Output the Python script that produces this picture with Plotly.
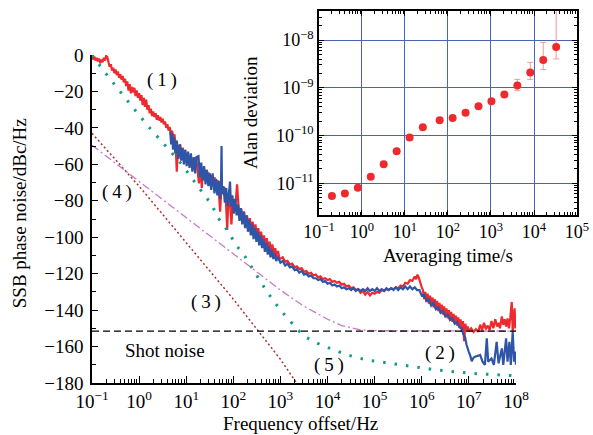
import plotly.graph_objects as go

# ---------------- data ----------------
# Red measured trace (1): log10(frequency offset / Hz) and SSB phase noise (dBc/Hz)
red_logf = [-1.0, -0.975, -0.95, -0.925, -0.9, -0.875, -0.85, -0.825, -0.8, -0.775, -0.75, -0.725, -0.7,
            -0.675, -0.65, -0.625, -0.6, -0.575, -0.55, -0.525, -0.5, -0.475, -0.45, -0.425, -0.4, -0.375,
            -0.35, -0.325, -0.3, -0.275, -0.25, -0.225, -0.2, -0.175, -0.15, -0.125, -0.1, -0.075, -0.05,
            -0.025, 0.0, 0.025, 0.05, 0.075, 0.1, 0.125, 0.15, 0.175, 0.2, 0.225, 0.25, 0.275, 0.3, 0.325,
            0.35, 0.375, 0.4, 0.425, 0.45, 0.475, 0.5, 0.525, 0.55, 0.575, 0.6, 0.625, 0.65, 0.675, 0.7,
            0.725, 0.75, 0.775, 0.8, 0.825, 0.85, 0.875, 0.9, 0.925, 0.95, 0.975,
            1.0, 1.03, 1.06, 1.09, 1.12, 1.15, 1.18, 1.21, 1.24, 1.27, 1.30, 1.33, 1.36, 1.39, 1.42, 1.45,
            1.48, 1.51, 1.54, 1.57, 1.60, 1.63, 1.66, 1.69, 1.72, 1.75, 1.78, 1.81, 1.84, 1.87, 1.90, 1.93,
            1.96, 1.99, 2.02, 2.05, 2.08, 2.11, 2.14, 2.17, 2.20, 2.23, 2.26, 2.29, 2.32, 2.35, 2.38, 2.41,
            2.44, 2.47, 2.50, 2.53, 2.56, 2.59, 2.62, 2.65, 2.68, 2.71, 2.74, 2.77, 2.80, 2.83, 2.86, 2.89,
            2.92, 2.95, 2.98,
            3.05, 3.10, 3.15, 3.20, 3.25, 3.30, 3.35, 3.40, 3.45, 3.50, 3.55, 3.60, 3.65, 3.70, 3.75, 3.80,
            3.85, 3.90, 3.95, 4.00, 4.05, 4.10, 4.15, 4.20, 4.25, 4.30, 4.35, 4.40, 4.45, 4.50, 4.55, 4.60,
            4.65, 4.70, 4.75, 4.80, 4.85, 4.90, 4.95, 5.00, 5.05, 5.10, 5.15, 5.20, 5.25, 5.30, 5.35, 5.40,
            5.45, 5.50, 5.55, 5.60, 5.65, 5.70, 5.75, 5.80, 5.85, 5.88, 5.91, 5.94, 5.97, 6.00,
            6.025, 6.05, 6.075, 6.10, 6.125, 6.15, 6.175, 6.20, 6.225, 6.25, 6.275, 6.30, 6.325, 6.35,
            6.375, 6.40, 6.425, 6.45, 6.475, 6.50, 6.525, 6.55, 6.575, 6.60, 6.625, 6.65, 6.675, 6.70,
            6.725, 6.75, 6.775, 6.80, 6.825, 6.85, 6.875, 6.90, 6.925, 6.95, 6.975, 7.00,
            7.05, 7.10, 7.15, 7.20, 7.24, 7.28, 7.32, 7.36, 7.40, 7.44, 7.48, 7.52, 7.56, 7.60, 7.63, 7.66,
            7.70, 7.73, 7.76, 7.79, 7.82, 7.85, 7.88, 7.91, 7.93, 7.95, 7.97, 7.99, 8.0]
red_db = [0, -2.5, -0.8, -3, -1.5, -3.5, -2, -4.5, -2.5, -4, -1.5, -3, -0.5,
          -1, -4, -6.5, -5, -8.5, -7, -10, -8, -11, -9, -12.5, -10.5, -13.5,
          -11.5, -15, -13, -17, -14.5, -19.5, -16, -21, -17.5, -20.5, -18, -22.5, -19.5,
          -23.5, -21, -25, -22, -27.5, -23.5, -28.5, -24.5, -30, -27.5, -32, -29.5, -33.5, -31, -34,
          -32, -35.5, -33, -36, -34, -37, -35, -38, -36.5, -40, -38, -41.5, -39.5, -43, -41.5,
          -45, -43.5, -49, -64, -50, -55, -49, -56, -51, -58, -52,
          -58, -54, -60, -55.5, -61, -57, -62, -56, -63, -70.5, -60, -73, -62, -67.5, -63, -69,
          -64.5, -70, -66, -71.5, -67, -73, -68.5, -74, -86, -71, -76.5, -72.5, -78, -96, -76, -81,
          -93, -79, -85, -81, -71, -83, -89, -84.5, -91, -86, -92.5, -88, -94, -89.5, -96, -91.5,
          -97.5, -93, -99.5, -95, -101, -97, -103, -99, -104.5, -100.5, -106, -102.5, -107.5, -104, -109, -106,
          -111, -107.5, -112,
          -111, -113.5, -113, -115, -114.5, -116.5, -116, -117.5, -117, -119, -118.5, -120, -119.5, -121, -120.5, -122,
          -121.5, -123, -122.5, -123.5, -123, -124.5, -124, -125, -124.5, -126, -125.5, -127, -126.5, -128, -127.5, -129,
          -128.5, -130.5, -129.5, -131.5, -130, -132, -130.5, -131, -130, -130.5, -129, -129.5, -128.5, -129, -128, -128.5,
          -127.5, -128, -126.5, -127, -125, -125.5, -123.5, -124, -121.5, -123, -120.5, -122.5, -125, -127.5,
          -129, -134, -130, -135.5, -131, -136.5, -132, -137.5, -133, -138.5, -134, -139.5, -135, -140.5,
          -136, -141.5, -137, -142.5, -138, -143.5, -139, -144.5, -140, -145.5, -141, -146.5, -142, -147.5,
          -143, -148.5, -144, -149.5, -145, -152, -146, -157, -147.5, -151, -149, -151.5,
          -150, -152, -150.5, -151.9, -148, -151, -147, -150.5, -148.5, -151, -146, -150, -145, -149, -147, -150,
          -143.5, -148, -145, -149, -144.5, -150, -144, -135.5, -151.8, -146, -139, -150, -147]

# Blue measured trace (2)
blue_logf = [0.66, 0.68, 0.70, 0.72, 0.74, 0.77, 0.80, 0.83, 0.86, 0.89, 0.92, 0.95, 0.98, 1.01, 1.04,
             1.07, 1.10, 1.13, 1.16, 1.19, 1.22, 1.26, 1.29, 1.32, 1.35, 1.38, 1.41, 1.44, 1.47, 1.50,
             1.53, 1.56, 1.60, 1.63, 1.66, 1.69, 1.72, 1.74, 1.75, 1.76, 1.79, 1.82, 1.85, 1.88, 1.91,
             1.93, 1.95, 1.98, 2.01, 2.04, 2.07, 2.10, 2.13, 2.16, 2.19, 2.22, 2.25, 2.28, 2.31, 2.34,
             2.37, 2.40, 2.43, 2.46, 2.49, 2.52, 2.55, 2.58, 2.61, 2.64, 2.67, 2.70, 2.73, 2.76, 2.79,
             2.82, 2.85, 2.88, 2.91, 2.95,
             3.00, 3.05, 3.10, 3.15, 3.20, 3.25, 3.30, 3.35, 3.40, 3.45, 3.50, 3.55, 3.60, 3.65, 3.70,
             3.75, 3.80, 3.85, 3.90, 3.95, 4.00, 4.05, 4.10, 4.15, 4.20, 4.25, 4.30, 4.35, 4.40, 4.45,
             4.50, 4.55, 4.60, 4.65, 4.70, 4.75, 4.80, 4.85, 4.90, 4.95, 5.00, 5.05, 5.10, 5.15, 5.20,
             5.25, 5.30, 5.35, 5.40, 5.45, 5.50, 5.55, 5.60, 5.65, 5.70, 5.75, 5.80, 5.85, 5.90, 5.95,
             6.00, 6.05, 6.10, 6.15, 6.20, 6.25, 6.30, 6.35, 6.40, 6.45, 6.50, 6.55, 6.60, 6.65, 6.70,
             6.75, 6.80, 6.85, 6.88, 6.92, 6.95, 7.00, 7.03, 7.06, 7.10, 7.13, 7.20, 7.24, 7.29, 7.34,
             7.38, 7.41, 7.48, 7.53, 7.59, 7.63, 7.70, 7.73, 7.79, 7.82, 7.86, 7.89, 7.93, 7.96, 7.98, 8.0]
blue_db = [-42, -49, -43, -52, -45, -54, -47, -57, -49, -58, -51, -60, -52, -61, -53,
           -62, -54, -64, -56, -65, -56, -55.5, -67, -59, -69, -61, -71, -63, -72, -65,
           -74, -65, -76, -68, -77, -69, -79, -69, -50, -76, -72, -81, -73, -83, -75,
           -69.5, -83, -77, -87, -79, -88, -82, -91, -84, -93, -86, -95, -88, -97, -90.5,
           -99, -93, -101, -95, -102.5, -97, -104.5, -99, -106, -101, -108, -103, -109.5, -105, -111,
           -107, -112, -109, -113, -111,
           -114, -113, -115.5, -114.5, -116.5, -116, -118, -117.5, -119.5, -118.5, -120.5, -120, -121.5, -121, -122.5,
           -122.5, -123.5, -123, -124.5, -124, -125.5, -125, -126.5, -126, -127, -126.5, -128, -127.5, -128.5, -128,
           -129, -128, -129.5, -128.5, -129.5, -128.5, -129.5, -128, -129.5, -128.5, -129.5, -128, -129.5, -128.5, -129.5,
           -128, -129, -128, -129, -127.5, -129, -127.5, -128.5, -127, -128.5, -127, -128.5, -127.5, -129, -129,
           -132, -131.5, -135, -134, -137.5, -136, -139.5, -138.5, -141.5, -140.5, -143.5, -142.5, -145.5, -144.5, -147.5,
           -146.5, -149.5, -150, -153, -155, -159, -163, -165, -168, -166, -165.6, -165, -164.6, -168.3, -170.1,
           -155.5, -168.3, -166.5, -170.1, -157.4, -169.2, -161, -170.1, -155.5, -168.3, -157.4, -170.1, -151.9, -168.3, -162.8, -170]

# Model curve (3)
c3_f = [0.1, 1, 10, 100, 1000, 2200]
c3_db = [-43, -72, -103, -134, -167, -180]

# Model curve (4)
c4_f = [0.1, 1, 10, 100, 1000, 3000, 1.0e4, 2.0e4, 5.0e4, 1.0e5, 1.0e6, 1.0e8]
c4_db = [-49.5, -69.5, -89.5, -109.5, -129, -137.5, -145, -148.5, -150.8, -151.3, -151.5, -151.5]

# Model curve (5)
c5_f = [0.1, 0.19, 0.55, 1.58, 4.9, 7.9, 35, 48, 79, 110, 182, 269, 407, 617, 1000, 1780, 3090,
        7080, 2.63e4, 6.9e4, 2.19e5, 7.4e5, 2.14e6, 1.1e7, 9.1e7]
c5_db = [0, -9.7, -24.7, -39.3, -53.6, -59.8, -82.3, -89.5, -97, -103.7, -111, -118.4, -125.7, -132.6,
         -140, -147.3, -154.2, -159, -164.6, -167.4, -169.2, -171, -172.9, -174.7, -176]

# Shot noise level
shot_f = [0.1, 1.0e8]
shot_db = [-151.5, -151.5]

# Inset: Allan deviation
tau = [0.2, 0.4, 0.8, 1.6, 3.2, 6.4, 12.8, 26, 64, 128, 256, 512, 1024, 2048, 4096, 8192, 16384, 32768]
adev = [5.4e-12, 6.1e-12, 8.1e-12, 1.38e-11, 2.5e-11, 4.7e-11, 9.1e-11, 1.5e-10, 2.1e-10, 2.34e-10,
        3.0e-10, 4.1e-10, 5.2e-10, 7.2e-10, 1.12e-9, 2.1e-9, 3.8e-9, 7.1e-9]
adev_err_plus = [0, 0, 0, 0, 0, 0, 0, 0, 0, 0, 0, 0, 0, 0.5e-10, 0.38e-9, 1.3e-9, 5.1e-9, 3.5e-8]
adev_err_minus = [0, 0, 0, 0, 0, 0, 0, 0, 0, 0, 0, 0, 0, 0.4e-10, 0.25e-9, 0.6e-9, 1.4e-9, 3.1e-9]

# Tick labels
main_xtick_vals = [0.1, 1, 10, 100, 1e3, 1e4, 1e5, 1e6, 1e7, 1e8]
main_xtick_text = ["10<sup>−1</sup>", "10<sup>0</sup>", "10<sup>1</sup>", "10<sup>2</sup>", "10<sup>3</sup>",
                   "10<sup>4</sup>", "10<sup>5</sup>", "10<sup>6</sup>", "10<sup>7</sup>", "10<sup>8</sup>"]
main_ytick_vals = [-180, -160, -140, -120, -100, -80, -60, -40, -20, 0]
main_ytick_text = ["−180", "−160", "−140", "−120", "−100", "−80", "−60", "−40", "−20", "0"]
inset_xtick_vals = [0.1, 1, 10, 100, 1e3, 1e4, 1e5]
inset_xtick_text = ["10<sup>−1</sup>", "10<sup>0</sup>", "10<sup>1</sup>", "10<sup>2</sup>",
                    "10<sup>3</sup>", "10<sup>4</sup>", "10<sup>5</sup>"]
inset_ytick_vals = [1e-11, 1e-10, 1e-9, 1e-8]
inset_ytick_text = ["10<sup>−11</sup>", "10<sup>−10</sup>", "10<sup>−9</sup>", "10<sup>−8</sup>"]

# Curve labels: (text, log10 frequency, level)
labels = [("(\u20091\u2009)", 0.49, -13.5), ("(\u20094\u2009)", -0.48, -75), ("(\u20093\u2009)", 1.43, -135.5),
          ("Shot noise", 0.55, -162), ("(\u20095\u2009)", 4.04, -170), ("(\u20092\u2009)", 6.39, -163.5)]

# Axis titles: (text, paper x, paper y, angle)
titles = [("Frequency offset/Hz", 0.429, -0.11, 0), ("SSB phase noise/dBc/Hz", -0.148, 0.457, -90),
          ("Averaging time/s", 0.734, 0.344, 0), ("Alan deviation", 0.328, 0.726, -90)]

# ---------------- figure ----------------
FONT = "Liberation Serif, Times New Roman, serif"
RED = "#ee2a2e"
BLUE = "#2f55a6"


def minor_log(lo, hi):
    return [d * 10 ** e for e in range(lo, hi) for d in range(2, 10)]


fig = go.Figure()

fig.add_trace(go.Scatter(x=c3_f, y=c3_db, mode="lines",
                         line=dict(color="#a8322f", width=1.5, dash="2px,2.5px"), xaxis="x", yaxis="y"))
fig.add_trace(go.Scatter(x=c4_f, y=c4_db, mode="lines",
                         line=dict(color="#c878c8", width=1.3, dash="8px,3px,2px,3px"), xaxis="x", yaxis="y"))
fig.add_trace(go.Scatter(x=[10 ** v for v in red_logf], y=red_db, mode="lines",
                         line=dict(color=RED, width=2.2, simplify=False), xaxis="x", yaxis="y"))
fig.add_trace(go.Scatter(x=[10 ** v for v in blue_logf], y=blue_db, mode="lines",
                         line=dict(color=BLUE, width=2.2, simplify=False), xaxis="x", yaxis="y"))
fig.add_trace(go.Scatter(x=shot_f, y=shot_db, mode="lines",
                         line=dict(color="black", width=1.3, dash="7px,4px"), xaxis="x", yaxis="y"))
fig.add_trace(go.Scatter(x=c5_f, y=c5_db, mode="lines",
                         line=dict(color="#17998b", width=3, dash="2.5px,9px"), xaxis="x", yaxis="y"))

fig.add_trace(go.Scatter(x=tau, y=adev, mode="markers",
                         marker=dict(color=RED, size=8),
                         error_y=dict(type="data", symmetric=False, array=adev_err_plus,
                                      arrayminus=adev_err_minus, color="#f29a9a", thickness=1, width=3),
                         xaxis="x2", yaxis="y2"))

# paper area: x 92..577, y 11..383
fig.update_layout(
    width=593, height=435,
    margin=dict(l=92, r=16, t=11, b=52, autoexpand=False),
    paper_bgcolor="white", plot_bgcolor="white",
    showlegend=False,
    font=dict(family=FONT, size=19, color="black"),
    xaxis=dict(type="log", domain=[0, 0.8742], range=[-1, 8], showline=True, linecolor="black", linewidth=1.5,
               ticks="inside", ticklen=7, tickwidth=1.2, tickcolor="black",
               tickmode="array", tickvals=main_xtick_vals, ticktext=main_xtick_text,
               minor=dict(tickmode="array", tickvals=minor_log(-1, 8), ticks="inside", ticklen=4,
                          tickcolor="black", tickwidth=1, showgrid=False),
               showgrid=False, zeroline=False, ticklabelstandoff=0, automargin=False, anchor="y"),
    yaxis=dict(domain=[0, 0.8817], range=[-180, 0], showline=True, linecolor="black", linewidth=1.5,
               ticks="inside", ticklen=6, tickwidth=1.2, tickcolor="black",
               tickmode="array", tickvals=main_ytick_vals, ticktext=main_ytick_text,
               minor=dict(dtick=10, ticks="inside", ticklen=4, tickcolor="black", tickwidth=1, showgrid=False),
               showgrid=False, zeroline=False, ticklabelstandoff=3, automargin=False, anchor="x"),
    xaxis2=dict(type="log", domain=[0.468, 1], range=[-1, 5], showline=True, linecolor="black", linewidth=1.5,
                mirror="allticks", ticks="inside", ticklen=5, tickwidth=1, tickcolor="black",
                tickmode="array", tickvals=inset_xtick_vals, ticktext=inset_xtick_text,
                tickfont=dict(size=18),
                minor=dict(tickmode="array", tickvals=minor_log(-1, 5), ticks="inside", ticklen=3,
                           tickcolor="black", tickwidth=0.8, showgrid=False),
                showgrid=True, gridcolor="#4865b3", gridwidth=1.3, zeroline=False,
                ticklabelstandoff=0, automargin=False, anchor="y2"),
    yaxis2=dict(type="log", domain=[0.4516, 1], range=[-11.663, -7.393], showline=True, linecolor="black",
                linewidth=1.5, mirror="allticks", ticks="inside", ticklen=5, tickwidth=1, tickcolor="black",
                tickmode="array", tickvals=inset_ytick_vals, ticktext=inset_ytick_text,
                tickfont=dict(size=18),
                minor=dict(tickmode="array", tickvals=minor_log(-12, -7), ticks="inside", ticklen=3,
                           tickcolor="black", tickwidth=0.8, showgrid=False),
                showgrid=True, gridcolor="#4865b3", gridwidth=1.3, zeroline=False,
                automargin=False, anchor="x2"),
)

# white background under inset
fig.add_shape(type="rect", xref="x2 domain", yref="y2 domain", x0=0, x1=1, y0=0, y1=1,
              fillcolor="white", line=dict(width=0), layer="below")

for txt, lx, ly in labels:
    fig.add_annotation(x=lx, y=ly, xref="x", yref="y", text=txt, showarrow=False,
                       font=dict(family=FONT, size=19, color="black"))

for txt, px, py, ang in titles:
    fig.add_annotation(x=px, y=py, xref="paper", yref="paper", text=txt, showarrow=False,
                       textangle=ang, xanchor="center", yanchor="middle",
                       font=dict(family=FONT, size=19, color="black"))

fig.write_html("out.html", config={"displayModeBar": False},
               post_script="document.body.style.margin='0px';document.body.style.padding='0px';"
                           "document.body.style.overflow='hidden';")
